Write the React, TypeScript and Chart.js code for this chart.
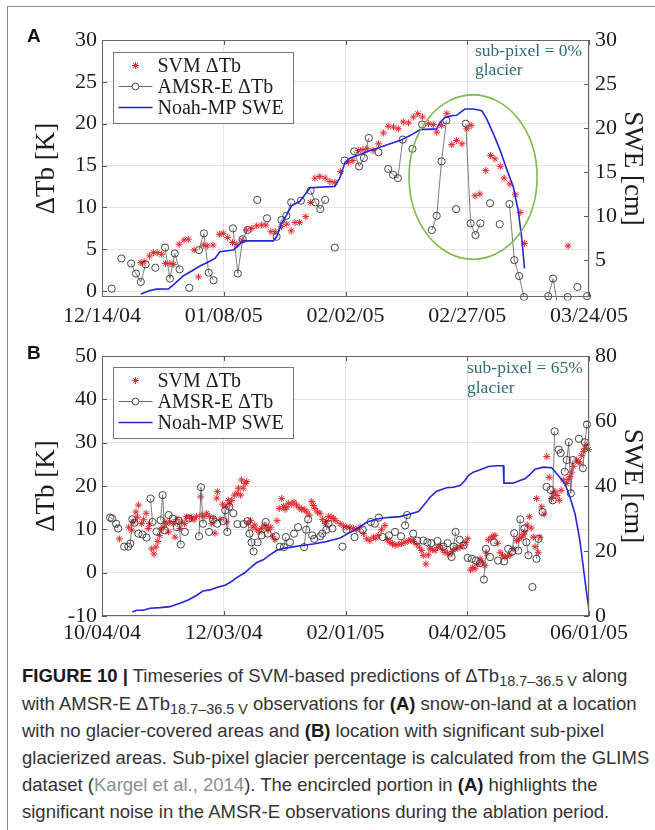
import React, { useEffect, useRef } from "react";
import { Chart, registerables } from "chart.js";
Chart.register(...registerables);

const SERIF = "'Liberation Serif', 'Times New Roman', serif";
const SANS = "'Liberation Sans', Arial, sans-serif";
const RED = "#e8262e";
const BLUE = "#2424dc";
const GRID = "#e4e4e4";
const TICK = "#1c1c1c";
const TEAL = "#2e6b75";

// ---------- Panel A (days since 12/14/04) ----------
const xLabelsA = ["12/14/04", "01/08/05", "02/02/05", "02/27/05", "03/24/05"];
const svmADays = [8.0, 8.7, 9.8, 10.6, 11.4, 12.3, 13.1, 14.0, 14.8, 15.9, 16.9, 17.8, 19.0, 19.9, 20.9, 21.7, 22.9, 24.2, 25.0, 25.9, 26.9, 27.8, 28.9, 29.8, 30.9, 31.9, 32.9, 33.8, 34.8, 35.7, 37.0, 38.1, 39.0, 39.8, 40.7, 42.0, 43.0, 43.9, 44.9, 46.0, 47.0, 48.0, 49.2, 50.8, 51.7, 52.9, 53.8, 54.7, 55.9, 57.0, 58.0, 59.0, 60.1, 61.1, 62.1, 63.2, 64.2, 65.1, 66.1, 67.3, 68.3, 69.0, 70.0, 71.1, 72.1, 73.1, 74.2, 75.2, 76.1, 76.9, 77.9, 79.1, 80.1, 81.0, 82.1, 82.9, 84.1, 85.2, 86.2, 87.1, 96.1];
const svmAVals = [3.4, 3.5, 4.2, 4.6, 4.6, 4.4, 3.3, 3.3, 3.2, 5.6, 6.1, 6.2, 4.9, 1.7, 5.5, 5.4, 5.5, 6.8, 6.9, 6.4, 5.8, 5.6, 6.1, 7.3, 7.5, 7.8, 7.9, 7.9, 7.1, 7.1, 7.7, 8.0, 7.2, 8.2, 8.2, 8.9, 10.6, 13.5, 13.7, 13.5, 13.1, 13.0, 14.3, 15.4, 15.6, 16.8, 16.9, 17.0, 16.8, 17.6, 18.9, 19.7, 19.6, 19.4, 20.2, 20.1, 20.8, 21.2, 20.8, 20.0, 19.9, 19.0, 19.8, 21.2, 17.5, 18.0, 17.6, 19.4, 19.8, 11.4, 11.6, 14.4, 16.2, 15.8, 14.9, 13.5, 12.8, 11.5, 9.4, 5.7, 5.4];
const amsrADays = [2, 4, 6, 7, 8, 9, 11, 13, 14, 15, 16, 18, 20, 21, 22, 23, 27, 28, 29, 30, 32, 34, 36, 37, 38, 39, 41, 43, 44, 45, 46, 48, 50, 52, 53, 54, 55, 57, 59, 60, 61, 62, 64, 66, 68, 69, 70, 71, 73, 75, 76, 77, 78, 80, 82, 84, 85, 86, 87, 92, 93, 94, 96, 98, 100];
const amsrAVals = [0.3, 3.9, 3.3, 2.1, 1.1, 3.2, 2.8, 5.2, 1.5, 4.5, 2.6, 0.4, 4.9, 6.9, 2.2, 1.3, 7.5, 2.1, 6.2, 7.3, 10.9, 8.7, 6.5, 8.5, 9.0, 10.6, 10.8, 12.0, 10.6, 9.8, 10.9, 5.2, 15.6, 16.7, 14.9, 15.9, 18.3, 16.6, 14.6, 13.9, 13.5, 18.1, 17.0, 19.9, 7.3, 9.0, 15.5, 20.4, 9.8, 20.0, 8.1, 6.7, 8.1, 10.5, 8.0, 10.4, 3.7, 1.8, -0.7, -0.6, 1.5, -1.9, -0.7, 0.5, -0.6];
const sweADays = [8.0, 9.9, 11.3, 13.7, 14.7, 16.8, 18.5, 20.2, 21.6, 23.3, 24.3, 27.1, 27.8, 29.1, 35.3, 36.0, 37.1, 38.1, 39.1, 40.8, 42.9, 48.0, 49.1, 50.1, 51.1, 53.2, 55.3, 57.3, 59.4, 61.4, 63.5, 65.6, 69.0, 69.7, 70.7, 72.1, 73.1, 74.8, 76.6, 78.3, 79.3, 80.7, 82.1, 83.4, 84.8, 85.8, 86.5, 87.1];
const sweAVals = [1.15, 1.53, 1.69, 1.72, 2.17, 3.22, 3.76, 4.32, 4.69, 5.19, 5.94, 6.13, 6.5, 7.18, 7.18, 7.64, 9.22, 10.17, 11.19, 11.67, 13.22, 13.37, 14.42, 16.1, 16.57, 16.99, 17.44, 17.82, 18.2, 18.57, 19.14, 19.82, 19.9, 20.64, 21.21, 21.4, 21.44, 22.16, 22.16, 21.97, 21.03, 19.33, 17.44, 15.37, 13.29, 10.66, 7.64, 4.06];

// ---------- Panel B (days since 10/04/04) ----------
const xLabelsB = ["10/04/04", "12/03/04", "02/01/05", "04/02/05", "06/01/05"];
const svmBDays = [8.6, 13.2, 14.7, 15.5, 16.8, 17.5, 18.0, 19.6, 20.6, 21.8, 22.9, 23.5, 24.6, 25.7, 26.7, 27.6, 28.4, 29.2, 30.3, 31.2, 32.0, 33.0, 33.6, 35.3, 36.1, 37.0, 38.6, 39.4, 40.9, 41.9, 43.5, 44.4, 45.6, 46.8, 48.8, 49.4, 50.5, 51.8, 53.1, 54.3, 55.1, 55.9, 56.8, 57.1, 58.4, 59.7, 60.9, 61.7, 62.5, 63.0, 64.2, 65.5, 66.9, 67.5, 68.6, 69.1, 69.9, 70.8, 71.6, 72.4, 73.5, 74.6, 75.6, 76.6, 78.0, 79.0, 80.3, 81.5, 82.5, 83.5, 84.5, 85.6, 86.6, 87.7, 88.9, 89.8, 90.6, 91.4, 92.2, 93.9, 95.0, 96.3, 97.5, 98.8, 100.1, 101.3, 102.6, 103.8, 104.6, 105.4, 106.6, 107.9, 109.2, 110.4, 111.1, 112.0, 113.3, 114.5, 115.7, 117.8, 119.4, 121.1, 122.7, 124.4, 126.1, 127.7, 129.4, 131.0, 132.6, 134.3, 135.5, 136.7, 138.3, 140.0, 141.2, 142.5, 143.7, 145.0, 146.6, 148.3, 150.0, 151.6, 152.9, 154.1, 155.5, 157.0, 158.2, 159.0, 160.3, 161.5, 162.3, 163.5, 164.8, 166.0, 167.3, 168.5, 169.7, 171.0, 172.2, 173.4, 174.7, 176.0, 177.2, 178.5, 180.0, 181.0, 182.4, 183.5, 184.6, 186.0, 187.1, 188.2, 189.5, 190.4, 191.2, 192.8, 193.6, 194.5, 195.8, 197.0, 198.2, 199.4, 200.6, 201.9, 203.5, 205.2, 206.4, 207.7, 208.5, 209.3, 210.4, 211.5, 212.4, 213.4, 214.3, 215.1, 215.9, 216.7, 217.6, 218.8, 220.1, 221.3, 222.5, 223.3, 224.2, 225.2, 226.3, 227.2, 228.3, 229.9, 230.7, 231.6, 232.4, 233.2, 234.9, 235.7, 236.5, 237.4, 238.2, 239.0, 239.9, 240.7];
const svmBVals = [7.8, 10.5, 9.8, 11.7, 14.0, 12.8, 15.6, 11.3, 12.2, 13.7, 10.2, 11.3, 5.5, 4.3, 5.9, 7.2, 8.6, 10.0, 10.5, 11.7, 11.3, 9.4, 11.7, 11.3, 8.2, 12.3, 10.2, 11.7, 11.3, 12.9, 12.5, 12.7, 12.2, 13.0, 17.5, 13.3, 12.9, 13.7, 13.0, 11.3, 12.5, 9.1, 17.2, 18.7, 12.3, 15.8, 15.2, 11.7, 16.7, 15.8, 16.7, 17.9, 18.3, 19.5, 17.9, 21.4, 19.5, 20.6, 21.0, 11.5, 12.0, 10.5, 11.0, 9.9, 9.4, 10.2, 11.0, 10.5, 9.9, 10.5, 8.4, 7.6, 12.0, 14.8, 17.1, 15.3, 14.6, 15.1, 16.0, 15.8, 16.3, 15.6, 15.0, 14.6, 14.6, 14.0, 13.3, 16.4, 15.5, 14.8, 14.0, 13.7, 12.3, 11.3, 11.8, 12.9, 12.9, 12.5, 12.0, 11.3, 10.8, 10.5, 10.5, 10.2, 9.9, 10.5, 9.0, 7.8, 7.4, 8.2, 8.0, 8.6, 9.9, 10.9, 7.6, 7.0, 6.7, 6.3, 6.5, 6.7, 7.0, 7.4, 7.6, 7.2, 6.6, 5.9, 5.1, 4.0, 2.0, 4.1, 5.5, 5.3, 5.1, 5.8, 6.3, 5.4, 4.7, 4.5, 4.3, 4.9, 5.5, 5.7, 5.9, 6.3, 7.0, 7.8, 0.6, 1.2, 0.9, 2.0, 3.2, 2.4, 1.6, 4.5, 7.6, 8.2, 8.4, 8.6, 6.8, 4.7, 4.0, 3.6, 3.8, 4.0, 5.5, 7.4, 7.8, 8.2, 8.8, 9.4, 11.0, 12.9, 10.3, 8.2, 6.0, 17.1, 4.7, 8.2, 15.2, 13.5, 26.8, 22.0, 17.1, 18.2, 18.7, 17.8, 16.7, 19.0, 21.4, 20.6, 21.5, 22.2, 23.2, 24.5, 26.0, 25.6, 25.3, 27.0, 28.0, 28.7, 29.5, 28.4];
const amsrBDays = [4, 5, 7, 8, 11, 13, 14, 15, 16, 18, 20, 22, 24, 25, 27, 29, 30, 31, 33, 35, 37, 38, 39, 41, 43, 48, 49, 50, 53, 55, 57, 60, 61, 62, 63, 65, 67, 70, 72, 73, 74, 75, 77, 79, 81, 82, 86, 88, 90, 91, 93, 95, 97, 100, 101, 102, 104, 105, 108, 109, 111, 112, 114, 119, 121, 125, 129, 133, 135, 137, 139, 142, 145, 148, 150, 151, 154, 156, 159, 161, 163, 166, 169, 171, 173, 174, 175, 177, 179, 181, 183, 185, 187, 189, 190, 192, 194, 196, 199, 201, 203, 204, 206, 207, 209, 210, 211, 213, 215, 216, 218, 220, 222, 223, 224, 226, 227, 229, 230, 231, 232, 233, 236, 238, 239, 240];
const amsrBVals = [12.7, 12.5, 11.3, 10.2, 6.0, 6.0, 6.7, 12.3, 11.5, 9.0, 8.8, 8.1, 17.1, 11.7, 9.5, 12.1, 17.9, 9.8, 13.3, 12.5, 10.5, 12.0, 6.5, 9.4, 12.5, 8.4, 19.7, 11.3, 9.4, 12.3, 11.3, 11.9, 14.4, 9.4, 15.2, 13.7, 11.2, 11.2, 11.9, 9.0, 7.0, 4.9, 7.0, 8.6, 11.7, 9.0, 8.4, 6.0, 5.9, 8.2, 7.0, 9.0, 10.5, 5.9, 9.9, 12.3, 8.6, 7.8, 8.4, 9.0, 9.9, 11.3, 10.2, 6.0, 9.9, 8.2, 9.9, 11.7, 11.3, 12.7, 8.2, 8.6, 9.4, 8.4, 10.9, 13.3, 9.0, 7.4, 7.4, 7.0, 6.8, 7.3, 6.0, 6.8, 3.6, 6.0, 9.4, 7.6, 6.3, 3.4, 3.2, 2.8, 2.2, -1.6, 5.5, 3.6, 7.0, 2.8, 2.6, 5.5, 4.9, 9.1, 5.1, 12.3, 10.2, 7.0, 4.0, -3.3, 3.2, 7.8, 14.0, 19.8, 19.1, 16.7, 32.6, 28.4, 27.6, 23.3, 26.0, 30.1, 18.3, 26.0, 30.9, 24.1, 30.1, 34.2];
const sweBDays = [15.0, 17.2, 20.4, 23.8, 28.7, 33.6, 38.6, 42.7, 46.9, 50.1, 53.4, 56.8, 60.9, 63.3, 66.7, 70.8, 74.1, 76.6, 79.8, 83.1, 86.5, 89.7, 93.9, 98.0, 104.6, 111.2, 117.8, 121.9, 126.0, 131.0, 135.9, 142.5, 147.5, 152.4, 156.6, 159.8, 162.3, 165.6, 170.6, 173.8, 177.2, 179.6, 181.3, 183.7, 187.1, 191.2, 195.3, 198.6, 198.9, 203.5, 206.8, 209.3, 211.8, 214.3, 218.4, 222.5, 225.8, 229.1, 231.6, 234.1, 236.5, 238.2, 239.9, 241.0];
const sweBVals = [1.24, 1.76, 1.76, 2.38, 2.57, 2.88, 3.92, 4.94, 6.39, 7.72, 8.03, 8.75, 9.47, 10.29, 11.83, 13.38, 15.23, 16.46, 17.3, 18.8, 20.2, 20.8, 21.2, 21.62, 22.15, 22.95, 24.0, 25.42, 26.78, 28.82, 29.87, 30.36, 30.58, 31.41, 32.12, 34.5, 36.54, 38.4, 39.45, 39.63, 40.15, 41.7, 43.24, 44.26, 45.0, 46.02, 46.24, 46.24, 40.87, 40.87, 41.7, 42.22, 43.55, 45.19, 45.81, 45.62, 43.24, 40.68, 36.54, 31.41, 23.17, 14.92, 6.7, 2.07];

const pts = (d: number[], v: number[]) => d.map((x, i) => ({ x, y: v[i] }));
function gapped(d: number[], v: number[]) {
  const out: any[] = [];
  for (let i = 0; i < d.length; i++) {
    if (i > 0 && d[i] - d[i - 1] > 1.2) out.push({ x: (d[i] + d[i - 1]) / 2, y: null });
    out.push({ x: d[i], y: v[i] });
  }
  return out;
}

const panelA = {
  topPad: 40, xAxisH: 33, xTickPad: 6,
  xMax: 100.4, xStep: 25, xLabels: xLabelsA,
  yMin: -0.7, yMax: 30, yStep: 5,
  y2Min: 0.8, y2Max: 30, y2Step: 5,
  svm: pts(svmADays, svmAVals), amsr: gapped(amsrADays, amsrAVals), swe: pts(sweADays, sweAVals),
  note: ["sub-pixel = 0%", "glacier"], noteDx: 114, noteDy: [11, 30],
  ellipse: { x0: 63.3, x1: 89.7, y0: 3.8, y1: 23.45 },
  legendDy: 12,
};
const panelB = {
  topPad: 26, xAxisH: 34, xTickPad: 4,
  xMax: 241, xStep: 60, xLabels: xLabelsB,
  yMin: -10, yMax: 50, yStep: 10,
  y2Min: 0, y2Max: 80, y2Step: 20,
  svm: pts(svmBDays, svmBVals), amsr: gapped(amsrBDays, amsrBVals), swe: pts(sweBDays, sweBVals),
  note: ["sub-pixel = 65%", "glacier"], noteDx: 122, noteDy: [12, 32],
  ellipse: null,
  legendDy: 11,
};

function drawStar(ctx: CanvasRenderingContext2D, x: number, y: number, r: number) {
  ctx.beginPath();
  ctx.moveTo(x - r, y); ctx.lineTo(x + r, y);
  ctx.moveTo(x, y - r); ctx.lineTo(x, y + r);
  const d = r * 0.707;
  ctx.moveTo(x - d, y - d); ctx.lineTo(x + d, y + d);
  ctx.moveTo(x - d, y + d); ctx.lineTo(x + d, y - d);
  ctx.stroke();
}

const overlay = {
  id: "overlay",
  afterDraw(chart: any, _a: any, p: any) {
    const { ctx, chartArea: ca, scales } = chart;
    ctx.save();
    ctx.strokeStyle = "#555";
    ctx.lineWidth = 1;
    ctx.beginPath();
    scales.x.ticks.forEach((t: any) => {
      const px = Math.round(scales.x.getPixelForValue(t.value)) + 0.5;
      ctx.moveTo(px, ca.bottom); ctx.lineTo(px, ca.bottom - 5);
      ctx.moveTo(px, ca.top); ctx.lineTo(px, ca.top + 5);
    });
    scales.y.ticks.forEach((t: any) => {
      const py = Math.round(scales.y.getPixelForValue(t.value)) + 0.5;
      ctx.moveTo(ca.left, py); ctx.lineTo(ca.left + 5, py);
    });
    scales.y2.ticks.forEach((t: any) => {
      const py = Math.round(scales.y2.getPixelForValue(t.value)) + 0.5;
      ctx.moveTo(ca.right, py); ctx.lineTo(ca.right - 5, py);
    });
    ctx.stroke();
    ctx.strokeStyle = "#666";
    ctx.strokeRect(Math.round(ca.left) + 0.5, Math.round(ca.top) + 0.5, Math.round(ca.width) - 1, Math.round(ca.height) - 1);

    if (p.ellipse) {
      const e = p.ellipse;
      const xa = scales.x.getPixelForValue(e.x0), xb = scales.x.getPixelForValue(e.x1);
      const ya = scales.y.getPixelForValue(e.y1), yb = scales.y.getPixelForValue(e.y0);
      ctx.beginPath();
      ctx.ellipse((xa + xb) / 2, (ya + yb) / 2, (xb - xa) / 2, (yb - ya) / 2, 0, 0, Math.PI * 2);
      ctx.strokeStyle = "#7cbb4c";
      ctx.lineWidth = 1.6;
      ctx.stroke();
    }

    ctx.fillStyle = TEAL;
    ctx.font = `17.5px ${SERIF}`;
    ctx.textAlign = "left";
    ctx.textBaseline = "middle";
    p.note.forEach((s: string, i: number) => ctx.fillText(s, ca.right - p.noteDx, ca.top + p.noteDy[i]));

    const x0 = Math.round(ca.left + 11) + 0.5, y0 = Math.round(ca.top + p.legendDy) + 0.5;
    const w = 180, h = 71;
    ctx.fillStyle = "#fff";
    ctx.fillRect(x0, y0, w, h);
    ctx.strokeStyle = "#777";
    ctx.lineWidth = 1;
    ctx.strokeRect(x0, y0, w, h);
    const rows = [y0 + 13, y0 + 34, y0 + 55];
    const sx = x0 + 22;
    ctx.strokeStyle = RED;
    drawStar(ctx, sx, rows[0], 3.4);
    ctx.strokeStyle = "#555";
    ctx.lineWidth = 0.9;
    ctx.beginPath(); ctx.moveTo(x0 + 5, rows[1]); ctx.lineTo(sx - 3.5, rows[1]); ctx.moveTo(sx + 3.5, rows[1]); ctx.lineTo(x0 + 39, rows[1]); ctx.stroke();
    ctx.strokeStyle = "#333";
    ctx.beginPath(); ctx.arc(sx, rows[1], 3.4, 0, Math.PI * 2); ctx.stroke();
    ctx.strokeStyle = BLUE;
    ctx.lineWidth = 1.6;
    ctx.beginPath(); ctx.moveTo(x0 + 5, rows[2]); ctx.lineTo(x0 + 39, rows[2]); ctx.stroke();
    ctx.fillStyle = TICK;
    ctx.font = `20px ${SERIF}`;
    ["SVM \u0394Tb", "AMSR-E \u0394Tb", "Noah-MP SWE"].forEach((s, i) => ctx.fillText(s, x0 + 44, rows[i] + 1));
    ctx.restore();
  },
};

function buildConfig(p: any): any {
  const tickFont = { family: SERIF, size: 22 };
  return {
    type: "scatter",
    data: {
      datasets: [
        { label: "Noah-MP SWE", data: p.swe, yAxisID: "y2", showLine: true, borderColor: BLUE, borderWidth: 1.6, pointRadius: 0, order: 0 },
        { label: "AMSR-E \u0394Tb", data: p.amsr, yAxisID: "y", showLine: true, spanGaps: false, borderColor: "#5a5a5a", borderWidth: 0.8, pointRadius: 3.6, pointStyle: "circle", pointBorderColor: "#333", pointBackgroundColor: "rgba(0,0,0,0)", pointBorderWidth: 0.9, order: 1, clip: { left: 6, right: 6, top: 6, bottom: 3.5 } },
        { label: "SVM \u0394Tb", data: p.svm, yAxisID: "y", showLine: false, pointStyle: "star", pointRadius: 3.5, pointBorderColor: RED, pointBackgroundColor: RED, pointBorderWidth: 1, order: 2, clip: 6 },
      ],
    },
    options: {
      responsive: false, animation: false, devicePixelRatio: 1,
      layout: { padding: { top: p.topPad, left: 0, right: 0, bottom: 0 } },
      plugins: { legend: { display: false }, tooltip: { enabled: false }, overlay: p },
      scales: {
        x: {
          type: "linear", min: 0, max: p.xMax,
          border: { display: false },
          grid: { color: GRID, drawTicks: false },
          ticks: {
            stepSize: p.xStep, includeBounds: false, autoSkip: false, maxRotation: 0, minRotation: 0,
            padding: p.xTickPad, font: tickFont, color: TICK,
            callback: (v: number) => p.xLabels[Math.round(v / p.xStep)] ?? "",
          },
          afterFit: (s: any) => { s.height = p.xAxisH; },
        },
        y: {
          position: "left", min: p.yMin, max: p.yMax,
          border: { display: false },
          grid: { color: GRID, drawTicks: false },
          ticks: { stepSize: p.yStep, includeBounds: false, padding: 5, font: tickFont, color: TICK },
          title: { display: true, text: "\u0394Tb [K]", font: { family: SERIF, size: 27 }, color: TICK, padding: { top: 31, bottom: 0 } },
          afterFit: (s: any) => { s.width = 102; },
        },
        y2: {
          position: "right", min: p.y2Min, max: p.y2Max,
          border: { display: false },
          grid: { drawOnChartArea: false, drawTicks: false },
          ticks: { stepSize: p.y2Step, includeBounds: false, padding: 6, font: tickFont, color: TICK },
          title: { display: true, text: "SWE [cm]", font: { family: SERIF, size: 27 }, color: TICK, padding: { top: 7, bottom: 0 } },
          afterFit: (s: any) => { s.width = 66; },
        },
      },
    },
    plugins: [overlay],
  };
}

const captionLines = [
  [["b", "FIGURE 10 |"], ["t", " Timeseries of SVM-based predictions of \u0394Tb"], ["s", "18.7\u201336.5 V"], ["t", " along"]],
  [["t", "with AMSR-E \u0394Tb"], ["s", "18.7\u201336.5 V"], ["t", " observations for "], ["b", "(A)"], ["t", " snow-on-land at a location"]],
  [["t", "with no glacier-covered areas and "], ["b", "(B)"], ["t", " location with significant sub-pixel"]],
  [["t", "glacierized areas. Sub-pixel glacier percentage is calculated from the GLIMS"]],
  [["t", "dataset ("], ["l", "Kargel et al., 2014"], ["t", "). The encircled portion in  "], ["b", "(A)"], ["t", " highlights the"]],
  [["t", "significant noise in the AMSR-E observations during the ablation period."]],
];
const captionY = [676, 704, 731, 758, 785, 812];

export default function App() {
  const refA = useRef<HTMLCanvasElement>(null);
  const refB = useRef<HTMLCanvasElement>(null);
  useEffect(() => {
    const a = new Chart(refA.current as HTMLCanvasElement, buildConfig(panelA));
    const b = new Chart(refB.current as HTMLCanvasElement, buildConfig(panelB));
    return () => { a.destroy(); b.destroy(); };
  }, []);
  return (
    <div style={{ position: "absolute", left: 0, top: 0, width: 655, height: 830, background: "#fff", overflow: "hidden" }}>
      <div style={{ position: "absolute", left: 7, top: 6, width: 660, height: 840, borderLeft: "1.5px solid #8c8c8c", borderTop: "1.5px solid #8c8c8c" }} />
      <canvas ref={refA} width={655} height={330} style={{ position: "absolute", left: 0, top: 0 }} />
      <canvas ref={refB} width={655} height={320} style={{ position: "absolute", left: 0, top: 330 }} />
      <div style={{ position: "absolute", left: 27, top: 25, font: `bold 19px ${SANS}`, color: "#111" }}>A</div>
      <div style={{ position: "absolute", left: 27, top: 342, font: `bold 19px ${SANS}`, color: "#111" }}>B</div>
      {captionLines.map((line, i) => (
        <div key={i} style={{ position: "absolute", left: 22, top: captionY[i] - 12, font: `18.5px/24px ${SANS}`, color: "#333", whiteSpace: "nowrap" }}>
          {line.map(([k, s], j) =>
            k === "b" ? <b key={j} style={{ color: "#1a1a1a" }}>{s}</b>
              : k === "s" ? <span key={j} style={{ fontSize: "0.78em", position: "relative", top: "0.3em" }}>{s}</span>
                : k === "l" ? <span key={j} style={{ color: "#8a8f96" }}>{s}</span>
                  : <span key={j}>{s}</span>
          )}
        </div>
      ))}
    </div>
  );
}
